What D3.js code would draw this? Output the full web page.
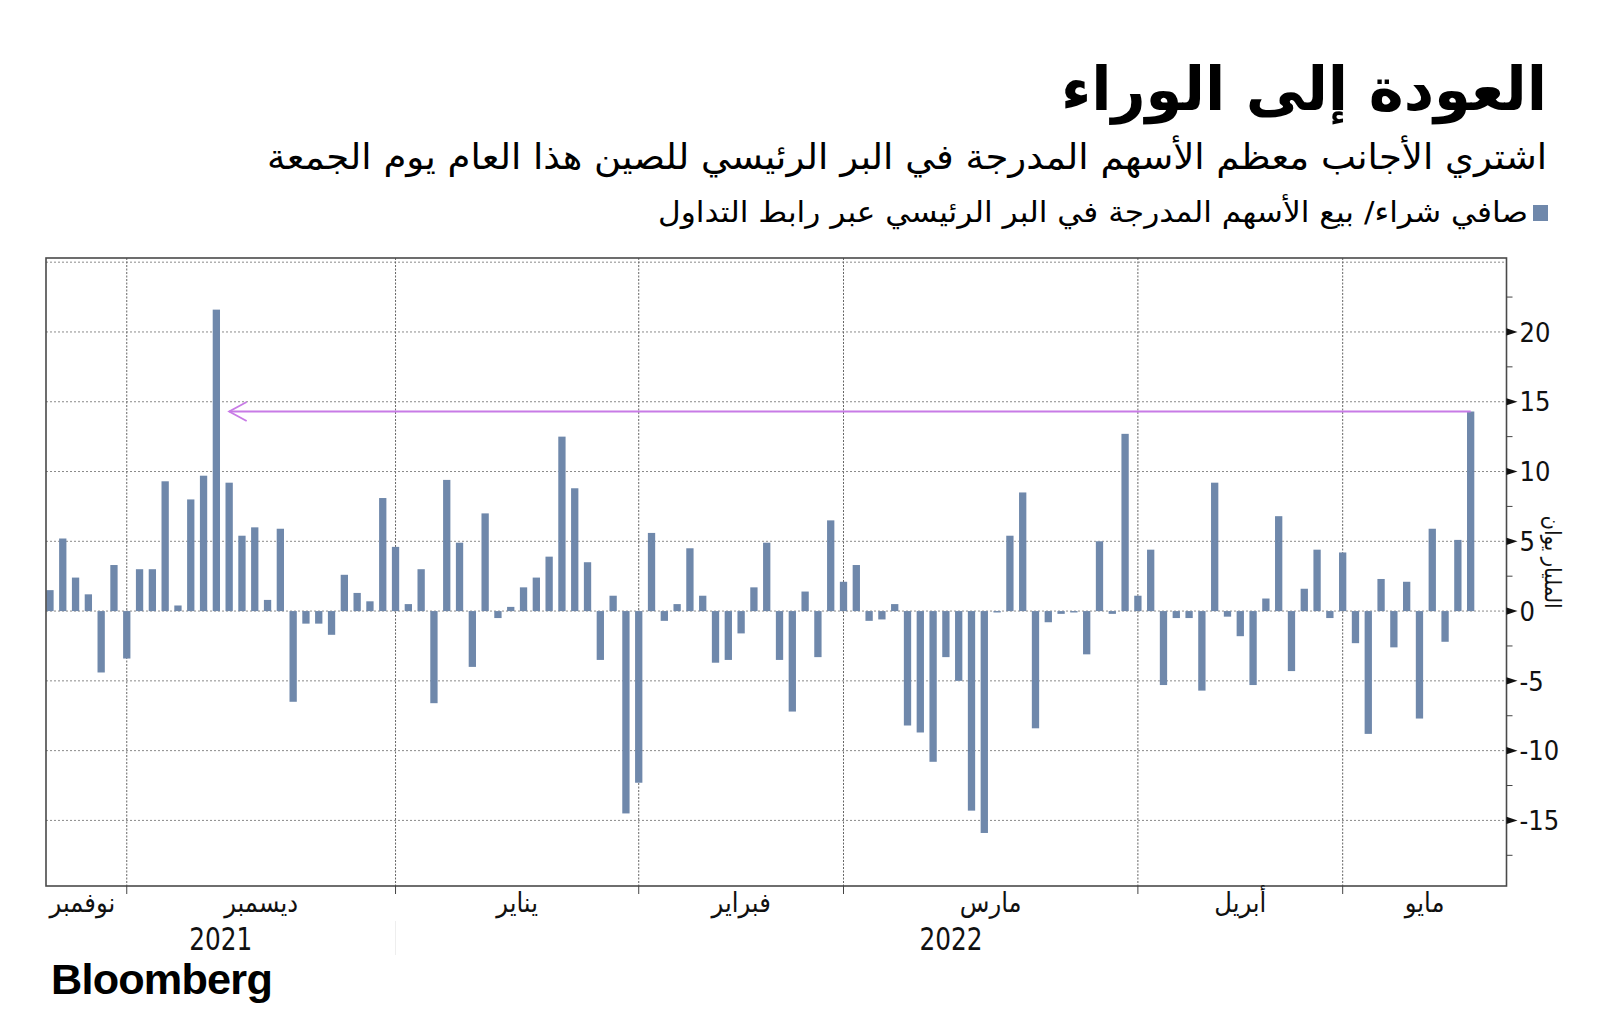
<!DOCTYPE html>
<html><head><meta charset="utf-8">
<script src="https://cdn.jsdelivr.net/npm/d3@7"></script>
<style>
html,body{margin:0;padding:0;background:#fff;}
svg{display:block;}
.ar{font-family:"DejaVu Sans Condensed","DejaVu Sans",sans-serif;font-stretch:condensed;}
.num{font-family:"DejaVu Sans Condensed","DejaVu Sans",sans-serif;font-stretch:condensed;}
.yr{font-family:"Liberation Sans Narrow","DejaVu Sans Condensed",sans-serif;font-stretch:condensed;}
</style>
</head><body>
<svg id="c" width="1600" height="1033"></svg>
<script>
// ---- data ----
const titleText = "العودة إلى الوراء";
const subtitleText = "اشتري الأجانب معظم الأسهم المدرجة في البر الرئيسي للصين هذا العام يوم الجمعة";
const legendText = "صافي شراء/ بيع الأسهم المدرجة في البر الرئيسي عبر رابط التداول";
const yAxisTitle = "المليار يوان";
const netFlows = [1.5, 5.2, 2.4, 1.2, -4.4, 3.3, -3.4, 3.0, 3.0, 9.3,
  0.4, 8.0, 9.7, 21.6, 9.2, 5.4, 6.0, 0.8, 5.9, -6.5,
  -0.9, -0.9, -1.7, 2.6, 1.3, 0.7, 8.1, 4.6, 0.5, 3.0,
  -6.6, 9.4, 4.9, -4.0, 7.0, -0.5, 0.3, 1.7, 2.4, 3.9,
  12.5, 8.8, 3.5, -3.5, 1.1, -14.5, -12.3, 5.6, -0.7, 0.5,
  4.5, 1.1, -3.7, -3.5, -1.6, 1.7, 4.9, -3.5, -7.2, 1.4,
  -3.3, 6.5, 2.1, 3.3, -0.7, -0.6, 0.5, -8.2, -8.7, -10.8,
  -3.3, -5.0, -14.3, -15.9, -0.1, 5.4, 8.5, -8.4, -0.8, -0.2,
  -0.1, -3.1, 5.0, -0.2, 12.7, 1.1, 4.4, -5.3, -0.5, -0.5,
  -5.7, 9.2, -0.4, -1.8, -5.3, 0.9, 6.8, -4.3, 1.6, 4.4,
  -0.5, 4.2, -2.3, -8.8, 2.3, -2.6, 2.1, -7.7, 5.9, -2.2, 5.1, 14.3];
const monthNames = ["نوفمبر", "ديسمبر", "يناير", "فبراير", "مارس", "أبريل", "مايو"];
const monthStarts = [6, 27, 46, 62, 85, 101];   // index of first trading day of each month after Nov
const years = ["2021", "2022"];
const yearStartIdx = 27;
const yTicks = [-15, -10, -5, 0, 5, 10, 15, 20];
const yMinorTicks = [-17.5, -12.5, -7.5, -2.5, 2.5, 7.5, 12.5, 17.5, 22.5];
const yGrid = [-15, -10, -5, 0, 5, 10, 15, 20, 25];
const arrowFromIdx = 111, arrowToIdx = 14, arrowValue = 14.3;

// ---- layout ----
const L = 46, R = 1506.5, T = 258, B = 886;
const barColor = "#6f88ab";
const svg = d3.select("#c");
const x = d3.scaleLinear().domain([-0.31, 113.8]).range([L, R]);
const y = d3.scaleLinear().domain([-19.7, 25.3]).range([B, T]);
const bw = 7.3;

// titles
svg.append("text").attr("class","ar").attr("x",1547).attr("y",110)
  .attr("text-anchor","end").attr("font-size",60).attr("font-weight","bold")
  .attr("textLength",486).attr("lengthAdjust","spacingAndGlyphs").text(titleText);
svg.append("text").attr("class","ar").attr("x",1547).attr("y",169)
  .attr("text-anchor","end").attr("font-size",35)
  .attr("textLength",1280).attr("lengthAdjust","spacingAndGlyphs").text(subtitleText);
svg.append("rect").attr("x",1533).attr("y",205).attr("width",15).attr("height",16).attr("fill",barColor);
svg.append("text").attr("class","ar").attr("x",1528).attr("y",222)
  .attr("text-anchor","end").attr("font-size",29)
  .attr("textLength",870).attr("lengthAdjust","spacingAndGlyphs").text(legendText);

// gridlines
const g = svg.append("g");
g.selectAll("line.hg").data(yGrid).join("line").attr("class","hg")
  .attr("x1",L).attr("x2",R).attr("y1",d=>y(d)).attr("y2",d=>y(d))
  .attr("stroke","#8a8a8a").attr("stroke-width",1).attr("stroke-dasharray","2,2");
g.selectAll("line.vg").data(monthStarts).join("line").attr("class","vg")
  .attr("x1",d=>x(d)).attr("x2",d=>x(d)).attr("y1",T).attr("y2",B)
  .attr("stroke","#666").attr("stroke-width",1).attr("stroke-dasharray","2,1.5");

// bars
svg.append("g").selectAll("rect").data(netFlows).join("rect")
  .attr("x",(d,i)=>x(i)-bw/2).attr("width",bw)
  .attr("y",d=>y(Math.max(0,d))).attr("height",d=>Math.max(0.8,Math.abs(y(d)-y(0))))
  .attr("fill",barColor);

// arrow annotation
const ay = y(arrowValue), ax = x(arrowToIdx);
const ac = "#c87be6";
svg.append("line").attr("x1",x(arrowFromIdx)).attr("x2",ax).attr("y1",ay).attr("y2",ay)
  .attr("stroke",ac).attr("stroke-width",2);
svg.append("path").attr("d",`M${ax+17.5},${ay-9.5}L${ax},${ay}L${ax+17.5},${ay+9.5}`)
  .attr("fill","none").attr("stroke",ac).attr("stroke-width",1.8);

// frame
svg.append("rect").attr("x",L).attr("y",T).attr("width",R-L).attr("height",B-T)
  .attr("fill","none").attr("stroke","#4a4a4a").attr("stroke-width",1.6);

// right axis
const ya = svg.append("g");
ya.selectAll("path.tri").data(yTicks).join("path").attr("class","tri")
  .attr("d",d=>`M${R},${y(d)-3.6}L${R+11},${y(d)}L${R},${y(d)+3.6}Z`).attr("fill","#111");
ya.selectAll("line.mn").data(yMinorTicks).join("line").attr("class","mn")
  .attr("x1",R).attr("x2",R+6).attr("y1",d=>y(d)).attr("y2",d=>y(d))
  .attr("stroke","#444").attr("stroke-width",1);
ya.selectAll("text").data(yTicks).join("text").attr("class","num")
  .attr("x",R+13).attr("y",d=>y(d)).attr("dy","0.36em").attr("font-size",27).attr("fill","#111")
  .text(d=> d<0 ? "-" + Math.abs(d) : String(d));
svg.append("text").attr("class","ar").attr("font-size",22).attr("fill","#111")
  .attr("text-anchor","middle")
  .attr("transform",`translate(1545,562) rotate(90)`).text(yAxisTitle);

// x axis month ticks and labels
svg.append("g").selectAll("line").data(monthStarts).join("line")
  .attr("x1",d=>x(d)).attr("x2",d=>x(d)).attr("y1",B).attr("y2",B+8)
  .attr("stroke","#444").attr("stroke-width",1);
const edges = [x.domain()[0], ...monthStarts, x.domain()[1]];
svg.append("g").selectAll("text").data(monthNames).join("text").attr("class","ar")
  .attr("x",(d,i)=>(x(edges[i])+x(edges[i+1]))/2 + (i===0 ? -4 : 0)).attr("y",912)
  .attr("text-anchor","middle").attr("font-size",27).attr("fill","#111").text(d=>d);
// years
const yEdges = [x.domain()[0], yearStartIdx, x.domain()[1]];
svg.append("line").attr("x1",x(yearStartIdx)).attr("x2",x(yearStartIdx)).attr("y1",921).attr("y2",955)
  .attr("stroke","#eee").attr("stroke-width",1);
svg.append("g").selectAll("text").data(years).join("text").attr("class","yr")
  .attr("x",(d,i)=>(x(yEdges[i])+x(yEdges[i+1]))/2).attr("y",950)
  .attr("text-anchor","middle").attr("font-size",32).attr("fill","#111")
  .attr("textLength",63).attr("lengthAdjust","spacingAndGlyphs").text(d=>d);

// logo
svg.append("text").attr("x",51).attr("y",994).attr("font-family","'Liberation Sans',Arial,sans-serif")
  .attr("font-weight","bold").attr("font-size",43).attr("letter-spacing",-0.8)
  .attr("textLength",221).attr("lengthAdjust","spacingAndGlyphs").attr("fill","#000").text("Bloomberg");
</script>
</body></html>
